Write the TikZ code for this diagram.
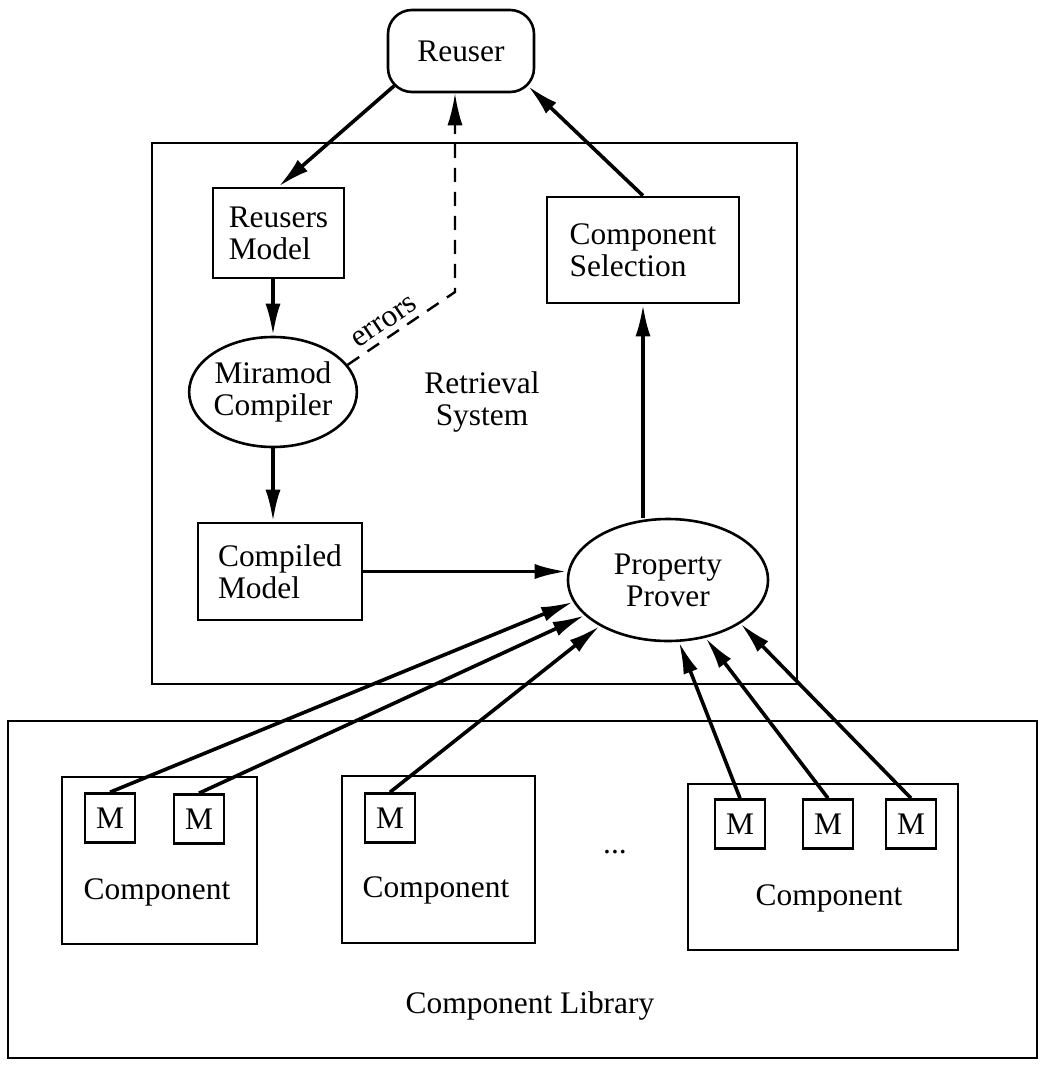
\documentclass[tikz,border=0pt]{standalone}
\usepackage{fontspec}
\setmainfont{Liberation Serif}
\usetikzlibrary{arrows.meta,positioning,shapes.geometric,calc}

\begin{document}
\begin{tikzpicture}[
            x=0.5pt,y=-0.5pt,
            every node/.style={font=\fontsize{15.7}{16}\selectfont},
            box/.style={draw,rectangle,line width=1.3pt,align=left,inner sep=0pt},
            rbox/.style={box,rounded corners=12pt,minimum width=73pt,minimum height=41pt},
            oval/.style={draw,ellipse,line width=1.3pt,align=center,inner sep=0pt},
            frame/.style={draw,line width=1.3pt},
            mod/.style={draw,rectangle,line width=1.3pt,minimum width=25pt,minimum height=24.5pt,inner sep=0pt},
            arr/.style={draw,line width=1.8pt,-{Latex[length=16pt,width=7.5pt]}},
            err/.style={arr,line width=1.2pt,dash pattern=on 7pt off 5pt}
          ]
          \useasboundingbox (0,0) rectangle (1042,1066);

          %frames
          \draw[frame] (152,143) rectangle (797,684);
          \draw[frame] (8,721) rectangle (1037,1058);
          \draw[frame] (62,777) rectangle (257,944);
          \draw[frame] (342,776) rectangle (535,943);
          \draw[frame] (688,784) rectangle (958,950);

          %retrieval system
          \node[rbox] (ru) at (461,51) {Reuser};
          \node[box,minimum width=65.5pt,minimum height=45pt] (rm) at (278.5,233) {Reusers\\Model};
          \node[oval,minimum width=76.5pt,minimum height=55pt] (mc) at (273,392) {Miramod\\Compiler};
          \node[box,minimum width=82pt,minimum height=48.5pt] (cm) at (280,571.5) {Compiled\\Model};
          \node[oval,minimum width=100pt,minimum height=61pt] (pp) at (668,580) {Property\\Prover};
          \node[box,minimum width=96pt,minimum height=53pt] (cs) at (643,250) {Component\\Selection};
          \node[align=center] (rs) at (482,402) {Retrieval\\System};
          \coordinate (bend) at (455,292);

          %component library
          \node[mod] (m1) at (110,818) {M};
          \node[mod] (m2) at (199,819) {M};
          \node[mod] (m3) at (390,818) {M};
          \node[mod] (m4) at (740,824) {M};
          \node[mod] (m5) at (828,824) {M};
          \node[mod] (m6) at (911,824) {M};
          \node (c1) at (157,892) {Component};
          \node (c2) at (436,890) {Component};
          \node (c3) at (829,898) {Component};
          \node (dots) at (615,852) {...};
          \node (cl) at (530,1006) {Component Library};

          %arrows
          \draw[arr] ($(ru.south west)+(3.7pt,3.7pt)$) -- (rm.north);
          \draw[arr] (mc |- rm.south) -- (mc.north);
          \draw[arr] (mc.south) -- (mc.south |- cm.north);
          \draw[arr] (cm.east) -- (cm.east -| pp.west);
          \draw[arr] (cs.south |- pp.north) -- (cs.south);
          \draw[arr] (cs.north) -- ($(ru.south east)+(-3.7pt,3.7pt)$);
          \draw[err] (mc.20) -- node[sloped,above,pos=0.42,inner sep=3pt] (lab) {errors} (bend) -- (bend |- ru.south);
          \draw[arr] (m1.north) -- (pp.193);
          \draw[arr] (m2.north) -- (pp.203);
          \draw[arr] (m3.north) -- (pp.214);
          \draw[arr] (m4.north) -- (pp.280);
          \draw[arr] (m5.north) -- (pp.303);
          \draw[arr] (m6.north) -- (pp.329);
      \end{tikzpicture}
\end{document}
